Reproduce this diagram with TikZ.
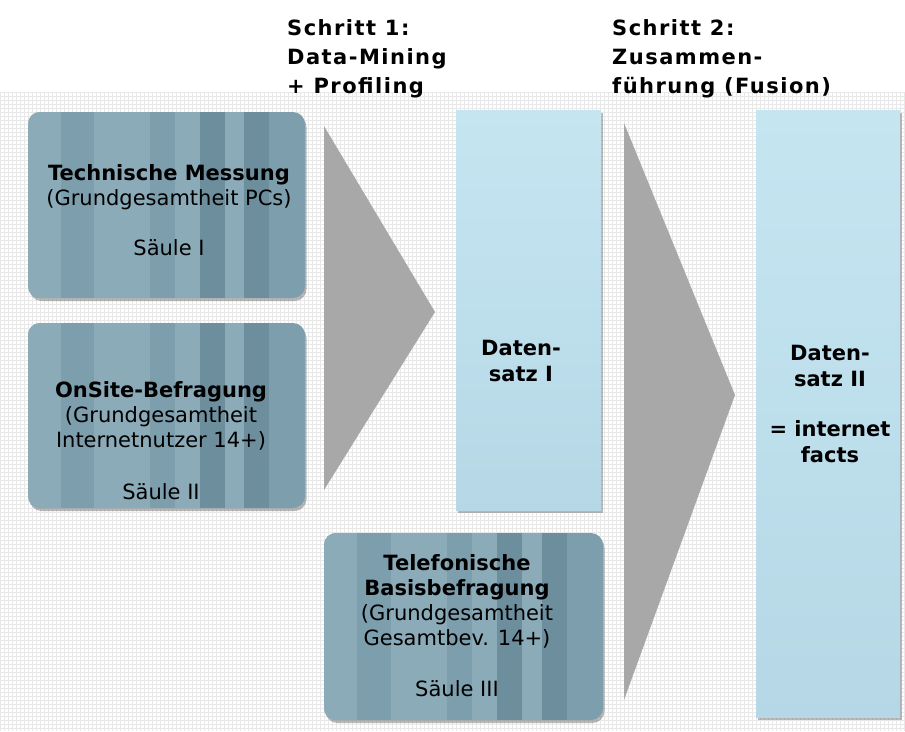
\documentclass[tikz,border=0pt]{standalone}
\usepackage{fontspec}
\setmainfont{DejaVu Sans}
\newfontfamily\headfont[LetterSpace=7]{DejaVu Sans}
\usetikzlibrary{calc,shadows}
\definecolor{pilmid}{HTML}{7D9EAD}
\definecolor{pillight}{HTML}{8BABB9}
\definecolor{pildark}{HTML}{6C8E9D}
\definecolor{dstop}{HTML}{C5E5F1}
\definecolor{dsbot}{HTML}{B6D8E6}
\definecolor{funnel}{HTML}{A8A8A8}
\definecolor{gridline}{HTML}{E8E8E8}
\tikzstyle{pillar} = [
  rounded corners=12pt,
  minimum width=277pt,
  minimum height=186pt,
  fill=pilmid,
  drop shadow={shadow xshift=1.5pt,shadow yshift=-3pt,fill=black!55},
  path picture={
    \foreach \a/\b/\c in {0/.12/pillight,.24/.44/pillight,.53/.62/pillight,
                          .62/.71/pildark,.71/.78/pillight,.78/.87/pildark}
      \fill[\c,sharp corners]
        ($(path picture bounding box.north west)!\a!(path picture bounding box.north east)$)
        rectangle ($(path picture bounding box.south west)!\b!(path picture bounding box.south east)$);
  },
  ]
\tikzstyle{dataset} = [
  top color=dstop,
  bottom color=dsbot,
  minimum width=145pt,
  drop shadow={shadow xshift=2pt,shadow yshift=-3pt,fill=black!55},
  ]
\tikzstyle{boxtext} = [align=center, inner sep=0pt, font=\fontsize{21}{25}\selectfont]
\tikzstyle{steptext} = [align=left, anchor=north west, inner sep=0pt,
  font=\headfont\bfseries\fontsize{21}{29}\selectfont]

\begin{document}
\begin{tikzpicture}[x=1pt, y=-1pt]
  \fill[white] (0,0) rectangle (905,731);
  \useasboundingbox (0,0) rectangle (905,731);
  % background grid
  \foreach \gx in {0,4,...,904}
    \draw[gridline, line width=0.6pt] (\gx,92) -- (\gx,731);
  \foreach \gy in {92,96,...,731}
    \draw[gridline, line width=0.6pt] (0,\gy) -- (905,\gy);

  \fill[funnel] (324,126) -- (435,312) -- (324,490) -- cycle;
  \fill[funnel] (624,123) -- (735,395) -- (624,700) -- cycle;

  \node[dataset, minimum height=400pt] (ds1) at (528.5,310) {};
  \node[dataset, minimum width=144pt, minimum height=607pt] (ds2) at (828,413.5) {};

  \node[pillar] (s1) at (166.5,205) {};
  \node[pillar, minimum height=185pt] (s2) at (166.5,415.5) {};
  \node[pillar, minimum width=279pt, minimum height=187pt] (s3) at (463.5,626.5) {};

  \node[boxtext] (s1txt) at (169,210) {
    \textbf{Technische Messung}\\(Grundgesamtheit PCs)\\[25pt]Säule I};
  \node[boxtext] (s2txt) at (161,441) {
    \textbf{OnSite-Befragung}\\(Grundgesamtheit\\Internetnutzer 14+)\\[27pt]Säule II};
  \node[boxtext] (s3txt) at (457,625.5) {
    \textbf{Telefonische}\\\textbf{Basisbefragung}\\(Grundgesamtheit\\Gesamtbev. 14+)\\[26pt]Säule III};
  \node[boxtext, font=\bfseries\fontsize{21}{26}\selectfont] (ds1txt) at (521,361) {
    Daten-\\satz I};
  \node[boxtext, font=\bfseries\fontsize{21}{26}\selectfont] (ds2txt) at (830,404) {
    Daten-\\satz II\\[24pt]= internet\\facts};

  \node[steptext] (step1) at (287,19) {Schritt 1:\\Data-Mining\\+ Profiling};
  \node[steptext] (step2) at (612,19) {Schritt 2:\\Zusammen-\\führung (Fusion)};
\end{tikzpicture}
\end{document}
